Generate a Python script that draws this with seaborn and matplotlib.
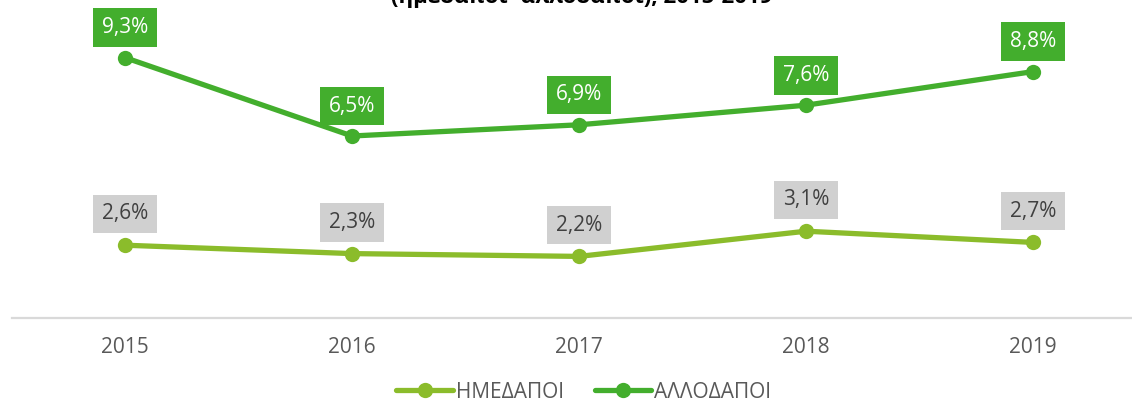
import matplotlib
matplotlib.use("Agg")
import matplotlib.pyplot as plt
import seaborn as sns
import pandas as pd

years = ["2015", "2016", "2017", "2018", "2019"]
natives = [2.6, 2.3, 2.2, 3.1, 2.7]
foreigners = [9.3, 6.5, 6.9, 7.6, 8.8]
series_names = ["ΗΜΕΔΑΠΟΙ", "ΑΛΛΟΔΑΠΟΙ"]
title_text = "(ημεδαποί- αλλοδαποί), 2015-2019"

sns.set_theme(style="white")
plt.rcParams["font.family"] = ["Open Sans", "DejaVu Sans"]

light_green = "#8BBC2B"
dark_green = "#43AE2D"

df = pd.DataFrame({
    "year": years * 2,
    "x": list(range(len(years))) * 2,
    "value": natives + foreigners,
    "series": [series_names[0]] * len(years) + [series_names[1]] * len(years),
})

fig = plt.figure(figsize=(11.32, 4.03), dpi=100)
ax = fig.add_axes([11.5 / 1132, (403 - 318) / 403, 1 - 11.5 / 1132, 318 / 403])

sns.lineplot(data=df, x="x", y="value", hue="series",
             palette={series_names[0]: light_green, series_names[1]: dark_green},
             marker="o", markersize=11, markeredgewidth=0, linewidth=3.8,
             ax=ax, legend=False)

ax.set_xlim(-0.5, (1132 - 125) / 227)
ax.set_ylim(0, 318 / 28)
ax.set_xticks(range(len(years)))
ax.set_xticklabels(years, color="#595959", fontsize=15)
ax.tick_params(axis="x", length=0, pad=14)
ax.set_yticks([])
ax.set_xlabel("")
ax.set_ylabel("")
for side in ["top", "left", "right"]:
    ax.spines[side].set_visible(False)
ax.spines["bottom"].set_color("#D9D9D9")
ax.spines["bottom"].set_linewidth(1.6)

def fmt(v):
    return f"{v:.1f}".replace(".", ",") + "%"

for i, v in enumerate(natives):
    ax.annotate(fmt(v), (i, v), xytext=(0, 22.5), textcoords="offset points",
                ha="center", va="center", fontsize=15, color="#404040",
                bbox=dict(boxstyle="square,pad=0.42", fc="#D0D0D0", ec="none"))
for i, v in enumerate(foreigners):
    ax.annotate(fmt(v), (i, v), xytext=(0, 21.5), textcoords="offset points",
                ha="center", va="center", fontsize=15, color="white",
                bbox=dict(boxstyle="square,pad=0.42", fc=dark_green, ec="none"))

handles = [
    plt.Line2D([], [], color=light_green, lw=3.8, marker="o", markersize=11, markeredgewidth=0),
    plt.Line2D([], [], color=dark_green, lw=3.8, marker="o", markersize=11, markeredgewidth=0),
]
leg = fig.legend(handles, series_names, loc="center", bbox_to_anchor=(584 / 1132, 1 - 392 / 403),
                 ncol=2, frameon=False, fontsize=15, handlelength=2.7, handletextpad=0.15,
                 columnspacing=1.5, labelcolor="#595959")

fig.text(582 / 1132, 1 - 3 / 403, title_text, ha="center", va="baseline",
         fontsize=16, fontweight="bold", color="black")

fig.savefig("out.png", dpi=100)
